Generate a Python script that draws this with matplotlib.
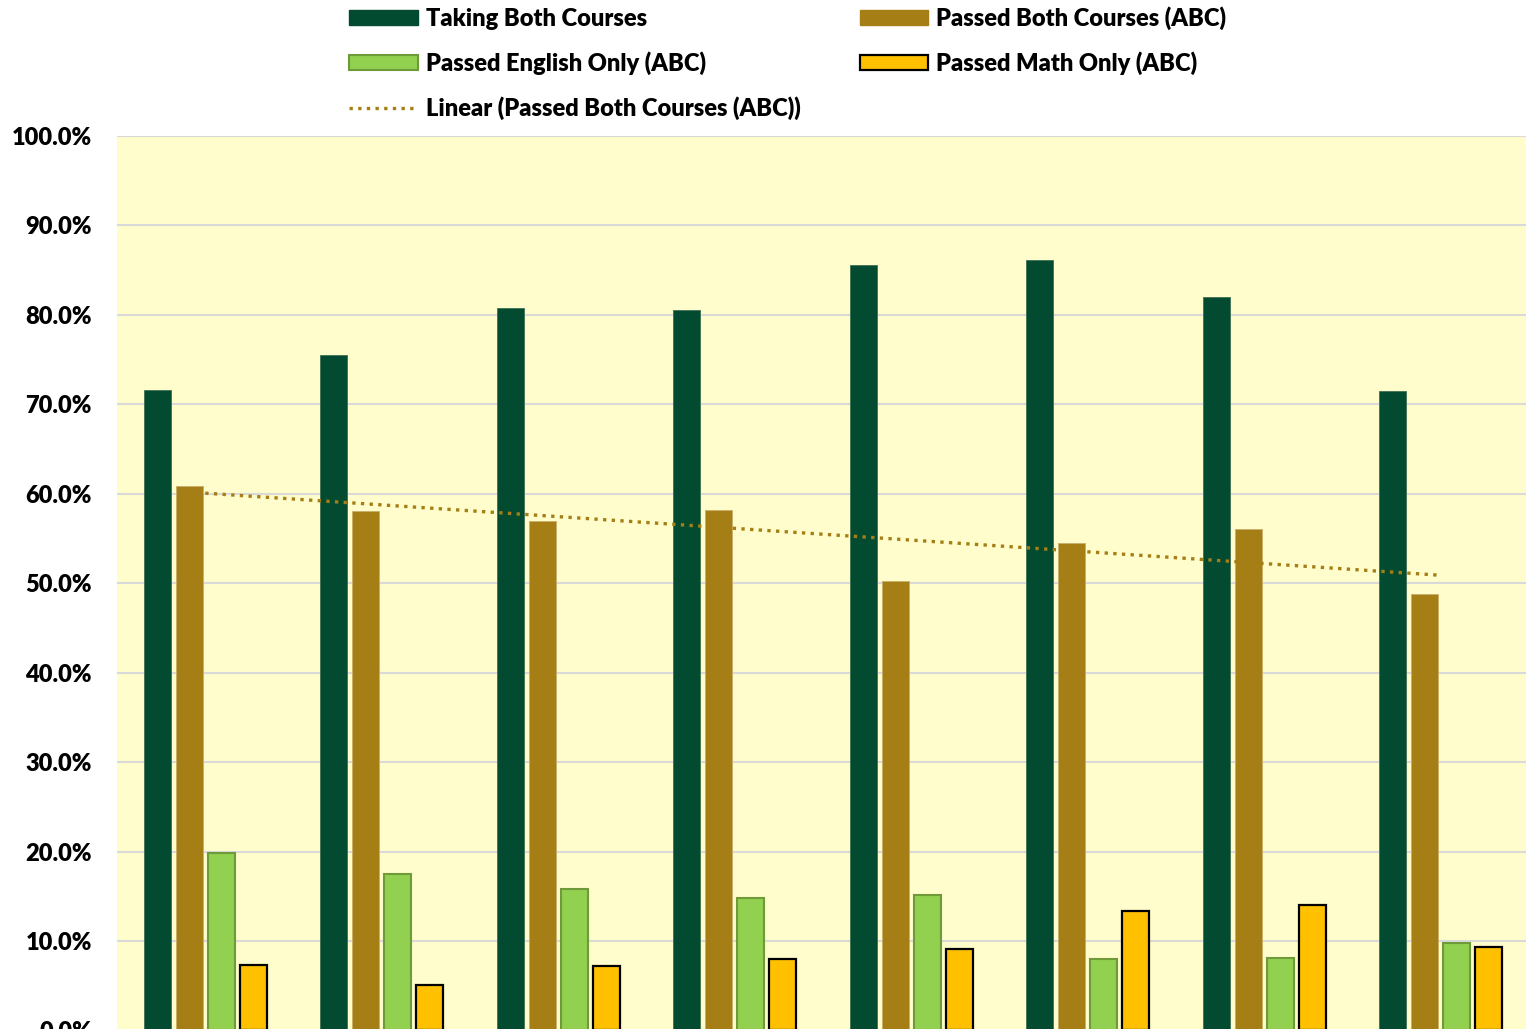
import numpy as np
import matplotlib
matplotlib.use("Agg")
import matplotlib.pyplot as plt
from matplotlib.lines import Line2D
from matplotlib.patches import Patch

plt.rcParams['font.family'] = ['Lato', 'DejaVu Sans']

# data
groups = np.arange(8)
taking_both = [71.6, 75.5, 80.8, 80.6, 85.6, 86.1, 82.0, 71.5]
passed_both = [60.9, 58.1, 57.0, 58.2, 50.2, 54.5, 56.1, 48.8]
english_only = [19.8, 17.5, 15.8, 14.8, 15.1, 8.0, 8.1, 9.8]
math_only = [7.3, 5.1, 7.2, 8.0, 9.1, 13.4, 14.0, 9.3]
y_ticks = np.arange(0, 101, 10)

C_DARK = "#034B30"
C_BROWN = "#A57F16"
C_LIGHT = "#92D050"
C_YELLOW = "#FFC000"
C_BG = "#FFFDCB"

W, H = 1526, 1029
fig = plt.figure(figsize=(W / 100, H / 100), dpi=100)
ax = fig.add_axes([117 / W, 1 - 1030.4 / H, 1412 / W, (1030.4 - 136) / H])
ax.set_facecolor(C_BG)

bw = 0.153
step = 0.181
offs = [-1.5 * step, -0.5 * step, 0.5 * step, 1.5 * step]

ax.bar(groups + offs[0], taking_both, bw, color=C_DARK, edgecolor="#3F6F55",
       linewidth=0.6, zorder=3)
ax.bar(groups + offs[1], passed_both, bw, color=C_BROWN, edgecolor="#C9AE6A",
       linewidth=0.6, zorder=3)
ax.bar(groups + offs[2], english_only, bw, color=C_LIGHT, edgecolor="#6F9A3A",
       linewidth=1.5, zorder=3)
ax.bar(groups + offs[3], math_only, bw, color=C_YELLOW, edgecolor="black",
       linewidth=1.6, zorder=3)

# linear trendline of "Passed Both Courses"
coef = np.polyfit(groups, passed_both, 1)
trend = np.polyval(coef, groups)
ax.plot(groups, trend, linestyle=(0, (1, 1.6)), color=C_BROWN, linewidth=2.4,
        zorder=4)

ax.set_xlim(-0.5, 7.5)
ax.set_ylim(0, 100)
ax.set_yticks(y_ticks)
ax.set_yticklabels([f"{v:.1f}%" for v in y_ticks], fontsize=17, fontweight="heavy")
ax.set_xticks([])
ax.tick_params(axis="y", length=0, pad=18)
ax.grid(axis="y", color="#D9D9D9", linewidth=1.5, zorder=0)
ax.set_axisbelow(True)
for s in ax.spines.values():
    s.set_visible(False)

handles = [
    Patch(facecolor=C_DARK, edgecolor=C_DARK),
    Patch(facecolor=C_LIGHT, edgecolor="#6F9A3A", linewidth=1.5),
    Line2D([], [], linestyle=(0, (1, 1.6)), color=C_BROWN, linewidth=2.4),
    Patch(facecolor=C_BROWN, edgecolor=C_BROWN),
    Patch(facecolor=C_YELLOW, edgecolor="black", linewidth=1.6),
]
labels = [
    "Taking Both Courses",
    "Passed English Only (ABC)",
    "Linear (Passed Both Courses (ABC))",
    "Passed Both Courses (ABC)",
    "Passed Math Only (ABC)",
]
leg = fig.legend(handles, labels, ncol=2, loc="upper left",
                 bbox_to_anchor=(328 / W, 1.0 + 15 / H), frameon=False,
                 prop={"size": 17, "weight": "heavy"},
                 handlelength=2.9, handleheight=0.6, handletextpad=0.34,
                 columnspacing=2.5, labelspacing=0.9)

fig.savefig("out.png", dpi=100)
